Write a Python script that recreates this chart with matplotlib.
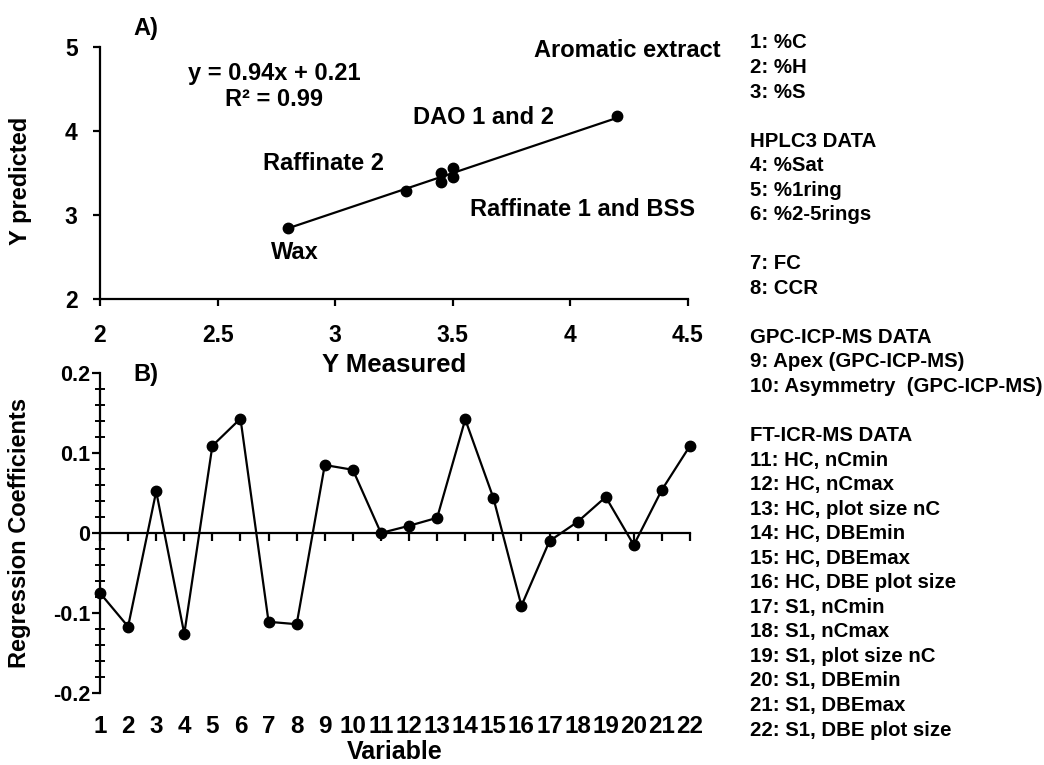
import matplotlib
matplotlib.use("Agg")
import matplotlib.pyplot as plt
from matplotlib.ticker import MultipleLocator

# ---- Data ----
measured = [2.80, 3.30, 3.45, 3.45, 3.50, 3.50, 4.20]
predicted = [2.85, 3.29, 3.50, 3.39, 3.56, 3.45, 4.18]
slope, intercept = 0.94, 0.21
fit_range = [2.80, 4.20]
annot_labels = ["Aromatic extract", "DAO 1 and 2", "Raffinate 2", "Raffinate 1 and BSS", "Wax"]
annot_x = [4.24, 3.63, 2.95, 4.05, 2.83]
annot_y = [4.96, 4.16, 3.61, 3.07, 2.55]
xticks_a = [2, 2.5, 3, 3.5, 4, 4.5]
xticklabels_a = ["2", "2.5", "3", "3.5", "4", "4.5"]
yticks_a = [2, 3, 4, 5]

variables = list(range(1, 23))
coefficients = [-0.075, -0.117, 0.052, -0.126, 0.109, 0.143, -0.111, -0.114,
                 0.085, 0.079, 0.000, 0.009, 0.019, 0.142, 0.044, -0.091,
                 -0.010, 0.014, 0.045, -0.015, 0.054, 0.109]
yticks_b = [-0.2, -0.1, 0, 0.1, 0.2]
yticklabels_b = ["-0.2", "-0.1", "0", "0.1", "0.2"]

legend_lines = ["1: %C", "2: %H", "3: %S", "",
                "HPLC3 DATA", "4: %Sat", "5: %1ring", "6: %2-5rings", "",
                "7: FC", "8: CCR", "",
                "GPC-ICP-MS DATA", "9: Apex (GPC-ICP-MS)", "10: Asymmetry  (GPC-ICP-MS)", "",
                "FT-ICR-MS DATA", "11: HC, nCmin", "12: HC, nCmax", "13: HC, plot size nC",
                "14: HC, DBEmin", "15: HC, DBEmax", "16: HC, DBE plot size",
                "17: S1, nCmin", "18: S1, nCmax", "19: S1, plot size nC",
                "20: S1, DBEmin", "21: S1, DBEmax", "22: S1, DBE plot size"]

FONT = ["Liberation Sans", "DejaVu Sans"]
plt.rcParams['font.family'] = FONT
plt.rcParams['font.weight'] = "bold"

W, H = 1044, 765
fig = plt.figure(figsize=(W / 100, H / 100), dpi=100)

def fx(px):
    return px / W

def fy(py):
    return 1 - py / H

LW = 1.6
MS = 7.5
ANN = 17

# ---- Panel A ----
axA = fig.add_axes([fx(100), fy(299), fx(688) - fx(100), fy(47) - fy(299)])
axA.plot(fit_range, [slope * v + intercept for v in fit_range], color="black", lw=LW, zorder=2)
axA.plot(measured, predicted, "o", color="black", ms=MS, zorder=3, clip_on=False)
axA.set_xlim(2, 4.5)
axA.set_ylim(2, 5)
for s in ["top", "right"]:
    axA.spines[s].set_visible(False)
for s in ["left", "bottom"]:
    axA.spines[s].set_linewidth(1.6)
axA.set_xticks(xticks_a)
axA.set_xticklabels(xticklabels_a)
axA.set_yticks(yticks_a)
axA.tick_params(axis="both", direction="out", length=5, width=1.6, labelsize=16.5)
axA.tick_params(axis="x", pad=13)
axA.tick_params(axis="y", pad=11)
for t, x, y in zip(annot_labels, annot_x, annot_y):
    axA.text(x, y, t, ha="center", va="center", fontweight="bold", fontsize=ANN, clip_on=False)
axA.text(2.74, 4.69, "y = 0.94x + 0.21", ha="center", va="center", fontweight="bold", fontsize=ANN)
axA.text(2.74, 4.38, "R² = 0.99", ha="center", va="center", fontweight="bold", fontsize=ANN)
axA.text(0.078, 1.075, "A)", transform=axA.transAxes, ha="center", va="center",
         fontweight="bold", fontsize=ANN)
axA.set_xlabel("Y Measured", fontweight="bold", fontsize=18.5, va="center")
axA.xaxis.set_label_coords(0.50, -0.262)
axA.set_ylabel("Y predicted", fontweight="bold", fontsize=17, va="center")
axA.yaxis.set_label_coords(-0.136, 0.47)

# ---- Panel B ----
axB = fig.add_axes([fx(100), fy(693), fx(690) - fx(100), fy(373) - fy(693)])
axB.plot(variables, coefficients, "-o", color="black", lw=LW, ms=MS, clip_on=False, zorder=3)
axB.set_xlim(1, 22)
axB.set_ylim(-0.2, 0.2)
for s in ["top", "right"]:
    axB.spines[s].set_visible(False)
axB.spines["left"].set_linewidth(1.6)
axB.spines["bottom"].set_linewidth(1.6)
axB.spines["bottom"].set_position(("data", 0))
axB.set_xticks(variables)
axB.tick_params(axis="x", direction="out", length=6, width=1.6, labelbottom=False)
axB.set_yticks(yticks_b)
axB.set_yticklabels(yticklabels_b)
axB.yaxis.set_minor_locator(MultipleLocator(0.02))
axB.tick_params(axis="y", which="major", direction="out", length=6, width=1.6, pad=1,
                labelsize=15.5)
axB.tick_params(axis="y", which="minor", direction="inout", length=7, width=1.4)

sec = axB.secondary_xaxis("bottom")
sec.spines["bottom"].set_visible(False)
sec.set_xticks(variables)
sec.set_xticklabels([str(v) for v in variables])
sec.tick_params(length=0, pad=16, labelsize=17.5)

axB.set_xlabel("Variable", fontweight="bold", fontsize=18, va="center")
axB.xaxis.set_label_coords(0.50, -0.185)
axB.set_ylabel("Regression Coefficients", fontweight="bold", fontsize=17, va="center")
axB.yaxis.set_label_coords(-0.136, 0.5)
axB.text(0.078, 0.995, "B)", transform=axB.transAxes, ha="center", va="center",
         fontweight="bold", fontsize=ANN)

# ---- Right-hand legend text ----
top_y, bot_y = 43, 730
step = (bot_y - top_y) / (len(legend_lines) - 1)
for i, line in enumerate(legend_lines):
    if line:
        fig.text(fx(750), fy(top_y + i * step), line, ha="left", va="center",
                 fontweight="bold", fontsize=14.7)

fig.savefig("out.png", dpi=100)
